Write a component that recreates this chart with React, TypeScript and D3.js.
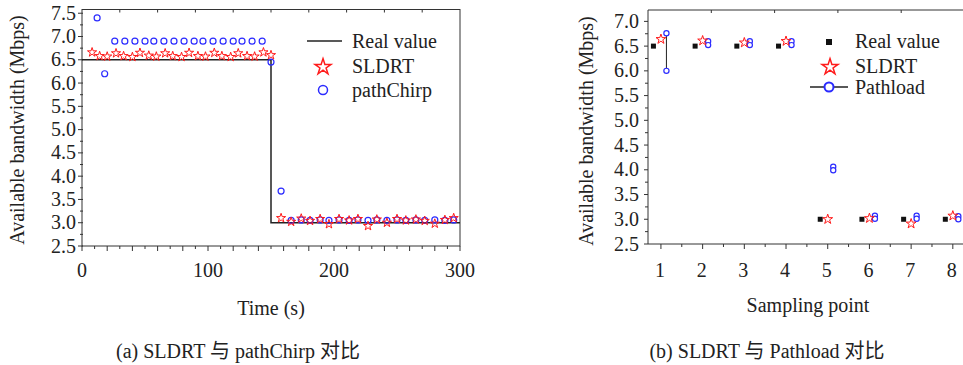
import React from 'react';
import * as d3 from 'd3';

// (a) SLDRT vs pathChirp, time in seconds
const realTime = [0, 150, 150, 300];
const realValue = [6.5, 6.5, 3.0, 3.0];

const sldrtTime = [8, 14, 20, 27, 33, 40, 46, 53, 59, 66, 72, 79, 85, 92, 98, 105, 111, 118, 124, 131, 137, 144, 150,
  158, 166, 174, 181, 189, 196, 204, 212, 219, 227, 234, 242, 250, 257, 265, 272, 280, 288, 295];
const sldrtValue = [6.66, 6.58, 6.57, 6.64, 6.58, 6.56, 6.65, 6.59, 6.57, 6.64, 6.58, 6.56, 6.65, 6.58, 6.57, 6.65, 6.58, 6.56, 6.64, 6.58, 6.57, 6.66, 6.6,
  3.1, 3.02, 3.09, 3.04, 3.08, 2.97, 3.08, 3.05, 3.08, 2.93, 3.07, 3.0, 3.08, 3.05, 3.07, 3.04, 2.98, 3.06, 3.1];

const chirpTime = [12, 18, 26, 34, 42, 50, 57, 65, 73, 81, 89, 96, 104, 112, 120, 127, 135, 143, 150,
  158, 166, 174, 181, 189, 196, 204, 212, 219, 227, 234, 242, 250, 257, 265, 272, 280, 288, 295];
const chirpValue = [7.4, 6.2, 6.9, 6.9, 6.9, 6.9, 6.9, 6.9, 6.9, 6.9, 6.9, 6.9, 6.9, 6.9, 6.9, 6.9, 6.9, 6.9, 6.45,
  3.68, 3.05, 3.06, 3.05, 3.06, 3.05, 3.06, 3.05, 3.06, 3.05, 3.06, 3.05, 3.06, 3.05, 3.06, 3.05, 3.06, 3.05, 3.06];

const timeTicks = [0, 100, 200, 300];
const bwTicksA = ['2.5', '3.0', '3.5', '4.0', '4.5', '5.0', '5.5', '6.0', '6.5', '7.0', '7.5'];

// (b) SLDRT vs Pathload, per sampling point
const samplePoints = [1, 2, 3, 4, 5, 6, 7, 8];
const realB = [6.5, 6.5, 6.5, 6.5, 3.0, 3.0, 3.0, 3.0];
const sldrtB = [6.64, 6.61, 6.57, 6.6, 3.0, 3.02, 2.91, 3.07];
const pathloadLow = [6.0, 6.52, 6.52, 6.52, 3.99, 3.01, 3.01, 3.0];
const pathloadHigh = [6.76, 6.6, 6.6, 6.6, 4.06, 3.07, 3.07, 3.06];
const bwTicksB = ['2.5', '3.0', '3.5', '4.0', '4.5', '5.0', '5.5', '6.0', '6.5', '7.0'];

const FONT = '"Liberation Serif", "Noto Sans CJK SC", serif';
const RED = '#ff1a1a';
const BLUE = '#2b2bff';
const AXIS = '#333';

const star = (size: number) => d3.symbol().type(d3.symbolStar).size(size)() as string;

export default function App() {
  // ---- chart (a) scales
  const xA = d3.scaleLinear().domain([0, 300]).range([82, 460]);
  const yA = d3.scaleLinear().domain([2.5, 7.58]).range([246, 9.5]);
  // ---- chart (b) scales
  const xB = d3.scaleLinear().domain([0.69, 8.22]).range([648, 962]);
  const yB = d3.scaleLinear().domain([2.5, 7.23]).range([244, 10]);

  const realLine = d3.line<number>().x((d, i) => xA(realTime[i])).y(d => yA(d));

  const minorA = d3.range(2.5, 7.51, 0.25);
  const minorB = d3.range(2.5, 7.01, 0.25);
  const xMinorA = d3.range(0, 301, 10);
  const xMinorB = d3.range(1, 8.01, 0.5);

  return (
    <svg width={963} height={365} style={{ position: 'absolute', left: 0, top: 0, background: '#fff' }}
      fontFamily={FONT}>
      {/* ================= (a) ================= */}
      <g>
        <rect x={xA(0)} y={yA.range()[1]} width={xA(300) - xA(0)} height={yA.range()[0] - yA.range()[1]}
          fill="none" stroke={AXIS} strokeWidth={1} />
        {/* y ticks */}
        {minorA.map((v, i) => (
          <line key={'ya' + i} x1={xA(0) - (i % 2 === 0 ? 4 : 2)} x2={xA(0) + 1} y1={yA(v)} y2={yA(v)} stroke={AXIS} />
        ))}
        {bwTicksA.map(t => (
          <text key={'yla' + t} x={76} y={yA(+t) + 6.5} textAnchor="end" fontSize={20} fill="#222">{t}</text>
        ))}
        {/* x ticks */}
        {xMinorA.map((v, i) => (
          <line key={'xa' + i} x1={xA(v)} x2={xA(v)} y1={yA(2.5)} y2={yA(2.5) + (v % 20 === 0 ? 5 : 3)} stroke={AXIS} />
        ))}
        {d3.range(1, 10).map(k => (
          <line key={'ta' + k} x1={xA(k * 30)} x2={xA(k * 30)} y1={yA.range()[1]} y2={yA.range()[1] + 3} stroke={AXIS} />
        ))}
        {timeTicks.map(t => (
          <text key={'xla' + t} x={xA(t)} y={277} textAnchor="middle" fontSize={20} fill="#222">{t}</text>
        ))}
        <text x={271} y={315} textAnchor="middle" fontSize={20} fill="#222">Time (s)</text>
        <text transform="translate(24,130) rotate(-90)" textAnchor="middle" fontSize={20} fill="#222">
          Available bandwidth (Mbps)
        </text>

        {/* real value step */}
        <path d={realLine(realValue) as string} fill="none" stroke="#222" strokeWidth={1.5} />

        {/* pathChirp */}
        {chirpTime.map((t, i) => (
          <circle key={'c' + i} cx={xA(t)} cy={yA(chirpValue[i])} r={3} fill="none" stroke={BLUE} strokeWidth={1.2} />
        ))}
        {/* SLDRT */}
        {sldrtTime.map((t, i) => (
          <path key={'s' + i} d={star(26)} transform={`translate(${xA(t)},${yA(sldrtValue[i])})`}
            fill="none" stroke={RED} strokeWidth={1} />
        ))}

        {/* legend */}
        <line x1={307} x2={342} y1={41} y2={41} stroke="#222" strokeWidth={1.5} />
        <text x={352} y={48} fontSize={20} fill="#222">Real value</text>
        <path d={star(80)} transform="translate(323,67)" fill="none" stroke={RED} strokeWidth={1.5} />
        <text x={352} y={73} fontSize={20} fill="#222">SLDRT</text>
        <circle cx={323} cy={90} r={4.5} fill="none" stroke={BLUE} strokeWidth={1.5} />
        <text x={352} y={97} fontSize={20} fill="#222">pathChirp</text>

        <text x={238} y={358} textAnchor="middle" fontSize={20} fill="#222">(a) SLDRT 与 pathChirp 对比</text>
      </g>

      {/* ================= (b) ================= */}
      <g>
        <line x1={648} x2={648} y1={10} y2={244} stroke={AXIS} />
        <line x1={648} x2={963} y1={10} y2={10} stroke={AXIS} />
        <line x1={648} x2={963} y1={244} y2={244} stroke={AXIS} />
        {minorB.map((v, i) => (
          <line key={'yb' + i} x1={648 - (i % 2 === 0 ? 4 : 3)} x2={648} y1={yB(v)} y2={yB(v)} stroke={AXIS} />
        ))}
        {bwTicksB.map(t => (
          <text key={'ylb' + t} x={639} y={yB(+t) + 6.5} textAnchor="end" fontSize={20} fill="#222">{t}</text>
        ))}
        {xMinorB.map((v, i) => (
          <line key={'xb' + i} x1={xB(v)} x2={xB(v)} y1={244} y2={244 + (i % 2 === 0 ? 5 : 3)} stroke={AXIS} />
        ))}
        {d3.range(1, 5).map(k => (
          <line key={'tb' + k} x1={648 + k * 63.3} x2={648 + k * 63.3} y1={10} y2={13} stroke={AXIS} />
        ))}
        {samplePoints.map(p => (
          <text key={'xlb' + p} x={xB(p) - 1} y={277} textAnchor="middle" fontSize={20} fill="#222">{p}</text>
        ))}
        <text x={808} y={312} textAnchor="middle" fontSize={20} fill="#222">Sampling point</text>
        <text transform="translate(593,131) rotate(-90)" textAnchor="middle" fontSize={20} fill="#222">
          Available bandwidth (Mbps)
        </text>

        {/* real value squares */}
        {samplePoints.map((p, i) => (
          <rect key={'rb' + i} x={xB(p) - 7.5 - 2.5} y={yB(realB[i]) - 2.5} width={5} height={5} fill="#111" />
        ))}
        {/* Pathload ranges */}
        {samplePoints.map((p, i) => (
          <g key={'pb' + i}>
            <line x1={xB(p) + 5.5} x2={xB(p) + 5.5} y1={yB(pathloadHigh[i])} y2={yB(pathloadLow[i])} stroke="#222" strokeWidth={1} />
            <circle cx={xB(p) + 5.5} cy={yB(pathloadHigh[i])} r={2.6} fill="#fff" stroke={BLUE} strokeWidth={1.2} />
            <circle cx={xB(p) + 5.5} cy={yB(pathloadLow[i])} r={2.6} fill="#fff" stroke={BLUE} strokeWidth={1.2} />
          </g>
        ))}
        {/* SLDRT */}
        {samplePoints.map((p, i) => (
          <path key={'sb' + i} d={star(30)} transform={`translate(${xB(p)},${yB(sldrtB[i])})`}
            fill="none" stroke={RED} strokeWidth={1} />
        ))}

        {/* legend */}
        <rect x={826} y={39} width={6} height={6} fill="#111" />
        <text x={855} y={48} fontSize={20} fill="#222">Real value</text>
        <path d={star(80)} transform="translate(830,67)" fill="none" stroke={RED} strokeWidth={1.5} />
        <text x={855} y={73} fontSize={20} fill="#222">SLDRT</text>
        <line x1={810} x2={848} y1={87} y2={87} stroke="#222" strokeWidth={1.5} />
        <circle cx={829} cy={87} r={4.5} fill="#fff" stroke={BLUE} strokeWidth={2} />
        <text x={855} y={94} fontSize={20} fill="#222">Pathload</text>

        <text x={767} y={358} textAnchor="middle" fontSize={20} fill="#222">(b) SLDRT 与 Pathload 对比</text>
      </g>
    </svg>
  );
}
